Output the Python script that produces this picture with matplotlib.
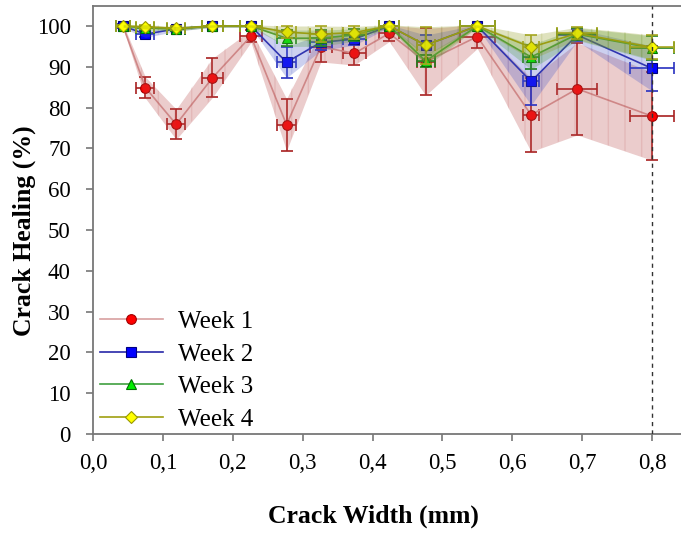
import numpy as np
import matplotlib.pyplot as plt
from matplotlib.ticker import FuncFormatter

plt.rcParams["font.family"] = ["Liberation Serif", "DejaVu Serif"]

# crack widths (mm) and horizontal error
crack_width = [0.043, 0.075, 0.119, 0.171, 0.226, 0.277, 0.326, 0.374, 0.424, 0.476, 0.550, 0.627, 0.693, 0.800]
width_err = [0.010, 0.013, 0.013, 0.015, 0.016, 0.013, 0.016, 0.016, 0.014, 0.013, 0.025, 0.011, 0.029, 0.031]

# healing (%) per week with std
week1 = [100, 84.9, 75.9, 87.3, 97.5, 75.8, 94.9, 93.3, 98.2, 91.2, 97.4, 78.2, 84.6, 77.9]
week1_err = [0.5, 2.6, 3.7, 4.8, 1.5, 6.4, 3.7, 2.9, 2.0, 8.2, 2.9, 9.0, 11.3, 10.8]
week2 = [100, 98.0, 99.3, 100, 100, 91.1, 96.0, 96.8, 100, 95.3, 100, 86.4, 97.8, 89.6]
week2_err = [0.5, 0.8, 0.6, 0.3, 0.3, 3.8, 2.0, 1.5, 0.3, 2.5, 0.3, 5.8, 1.5, 5.5]
week3 = [100, 99.5, 99.3, 100, 100, 97.0, 97.0, 97.8, 100, 91.4, 100, 92.4, 98.0, 94.6]
week3_err = [0.3, 0.5, 0.5, 0.3, 0.3, 2.0, 2.0, 1.5, 0.3, 1.5, 0.3, 3.0, 1.5, 3.0]
week4 = [100, 99.8, 99.4, 100, 100, 98.5, 98.0, 98.4, 100, 95.3, 100, 94.8, 98.2, 94.8]
week4_err = [0.3, 0.5, 0.5, 0.3, 0.3, 1.5, 2.0, 1.5, 0.3, 4.5, 0.3, 3.0, 1.5, 3.0]

series = [
    # label, values, err, marker, face, edge, line, errcolor, band, size
    ("Week 1", week1, week1_err, "o", "#ff0000", "#a00000", "#d8a0a0", "#a82020", "#b84848", 7),
    ("Week 2", week2, week2_err, "s", "#0000ff", "#000080", "#2828a8", "#2830c0", "#4858c8", 6.5),
    ("Week 3", week3, week3_err, "^", "#00ee00", "#007000", "#40a040", "#208020", "#50a040", 7),
    ("Week 4", week4, week4_err, "D", "#ffff00", "#989800", "#a0a010", "#a8a820", "#8c9818", 6.5),
]

fig = plt.figure(figsize=(6.81, 5.34), dpi=100)
ax = fig.add_axes([93 / 681, 100 / 534, 588 / 681, 428 / 534])

x = np.array(crack_width)
for i, (lab, vals, err, mk, fc, ec, lc, erc, bc, ms) in enumerate(series):
    vals = np.array(vals)
    err = np.array(err)
    ax.plot(x, vals, color=lc, lw=1.2, marker=mk, ms=ms, mfc=fc, mec=ec, mew=0.8,
            label=lab, zorder=3 + 2 * i)
    ax.errorbar(x, vals, yerr=err, xerr=width_err, fmt="none", ecolor=erc,
                elinewidth=1.2, capsize=4, capthick=1.2, zorder=2.9 + 2 * i)
    ax.fill_between(x, vals - err, vals + err, color=bc, alpha=0.28, lw=0,
                    zorder=3.5 + 2 * i)
    ax.fill_between(x, vals - err, vals + err, facecolor="none", edgecolor=bc,
                    hatch="|", alpha=0.15, lw=0, zorder=3.5 + 2 * i)

ax.axvline(0.8, color="#333333", lw=1, ls=(0, (3, 3)), zorder=20)

ax.set_xlim(0, 0.8415)
ax.set_ylim(0, 104.9)
ax.set_xticks(np.arange(0, 0.81, 0.1))
ax.xaxis.set_major_formatter(FuncFormatter(lambda v, p: f"{v:.1f}".replace(".", ",")))
ax.set_yticks(np.arange(0, 101, 10))

for s in ["left", "bottom", "top"]:
    ax.spines[s].set_color("#777777")
    ax.spines[s].set_linewidth(1.3)
ax.spines["right"].set_visible(False)
ax.tick_params(direction="out", length=5, width=1.2, color="#777777", labelsize=16.5)
ax.tick_params(axis="y", pad=11)
ax.tick_params(axis="x", pad=9)

ax.set_xlabel("Crack Width (mm)", fontsize=18.5, fontweight="bold")
ax.set_ylabel("Crack Healing (%)", fontsize=18.5, fontweight="bold")
ax.xaxis.set_label_coords((373 - 93) / 588, (434 - 505) / 428)
ax.yaxis.set_label_coords((36 - 93) / 588, (434 - 231) / 428)

ax.legend(loc="lower left", bbox_to_anchor=(0.012, 0.008), frameon=False,
          fontsize=18, handlelength=2.5, handletextpad=0.6, labelspacing=0.4,
          borderpad=0, borderaxespad=0)

fig.savefig("out.png", dpi=100)
